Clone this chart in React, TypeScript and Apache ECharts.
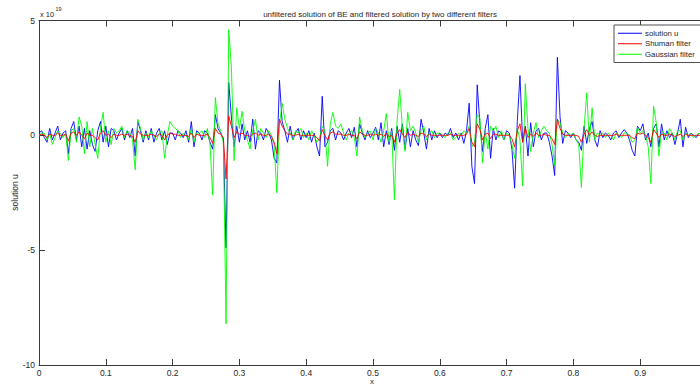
import React, { useEffect, useRef } from "react";
import * as echarts from "echarts";

// values in units of 1e19, sampled every X_STEP along x
const X_STEP = 0.004;

const solutionU = [
  0.1, 0.2, -0.1, -0.3, 0.3, -0.2, 0.1, 0.4, -0.2, 0.1,
  0.2, -0.8, 0.3, 0.6, -0.2, 0.4, -0.5, 0.3, -0.6, 0.2,
  -0.4, -0.7, 0.2, 0.6, -0.3, 0.4, -0.5, 0.3, 0.2, -0.2,
  0.1, 0.3, -0.2, 0.2, -0.1, 0.3, -0.9, 0.6, 0.2, -0.3,
  0.2, -0.2, 0.3, -0.3, 0.1, 0.3, -0.2, 0.2, -0.4, 0.1,
  0.1, -0.2, 0.2, 0.1, -0.1, 0.2, -0.3, 0.6, -0.5, 0.2,
  0.1, -0.2, 0.2, 0.1, -0.3, -0.6, 0.9, 0.3, 0.1, -0.2,
  -4.9, 2.3, 0.8, -0.5, 0.4, -0.3, 0.5, -0.2, 0.2, -0.3,
  0.7, -0.6, 0.2, 0.1, -0.2, 0.3, 0.1, -0.2, -1.0, -1.2,
  2.4, 0.6, 0.2, -0.3, 0.4, -0.2, 0.1, 0.3, -0.2, 0.2,
  -0.1, 0.2, -0.3, 0.1, -0.5, -0.9, 1.7, -0.5, -0.3, 0.2,
  0.3, -0.2, 0.2, 0.1, -0.2, 0.1, 0.3, -0.1, 0.35, -0.5,
  0.5, 0.1, -0.2, 0.2, -0.1, 0.1, 0.35, -0.2, 0.55, -0.5,
  0.2, -0.4, 0.3, -0.65, 0.4, -0.3, 0.5, -0.6, 0.3, -0.5,
  0.2, -0.2, -0.45, 0.7, 0.1, -0.6, 0.3, -0.2, 0.2, -0.1,
  0.1, -0.1, 0.1, 0.0, 0.3, -0.1, 0.1, -0.2, 0.1, -0.35,
  0.2, 1.4, -1.35, -2.1, 2.2, 0.5, -0.7, 0.3, 0.9, -1.0,
  0.3, -0.2, 0.2, 0.1, -0.2, 0.2, 0.1, -0.6, -2.3, 0.6,
  2.6, -0.3, 0.4, -0.9, 0.55, -0.5, 0.2, 0.3, -0.2, 0.1,
  0.1, -0.3, -0.9, -1.75, 3.4, 0.8, -0.35, 0.2, 0.1, -0.1,
  0.1, -0.2, -0.3, -0.65, 0.4, -0.35, 0.3, 0.6, -0.2, -0.5,
  0.2, -0.1, 0.1, 0.0, -0.2, 0.1, 0.2, -0.1, 0.1, 0.25,
  0.1, -0.2, -0.65, -0.9, 0.4, 0.2, 0.5, -0.2, 0.1, -0.5,
  0.3, 0.5, -0.5, 0.5, -0.2, 0.2, -0.1, 0.1, -0.4, 0.1,
  0.7, -0.5, 0.35, -0.1, 0.1, 0.0, -0.1, 0.1, 0.0, -0.1, 0.0,
];

const shumanFilter = [
  0, 0.05, 0, -0.1, 0.05, 0, 0, 0.1, 0, 0,
  0.05, -0.25, 0.1, 0.15, 0, 0.15, 0, -0.15, 0.1, 0,
  0, -0.1, -0.2, 0.1, 0.2, 0, 0.05, -0.1, 0.05, 0,
  0, 0.05, 0, 0.05, 0, -0.05, -0.3, 0.2, 0.05, 0,
  0, 0, 0.05, 0, -0.05, 0.05, 0, -0.2, 0, 0.1,
  0.05, 0.05, 0, 0, 0, 0, -0.05, 0.1, -0.1, 0.05,
  0, 0, 0, 0.05, -0.1, -0.35, 0.3, 0.1, 0.05, -0.1,
  -1.9, 0.85, 0.4, -0.1, 0.15, 0.05, 0.1, 0, 0, -0.05,
  0.05, 0.1, 0, 0.05, 0, 0, 0.05, -0.05, -0.3, -0.8,
  0.7, 0.4, 0.2, 0.05, 0.05, 0, 0, 0.05, 0, 0,
  0, 0, 0, 0, -0.1, -0.25, 0.25, 0, -0.2, 0.1,
  0.15, 0.05, 0.05, 0.05, 0, 0, 0.05, 0, 0, -0.15,
  0.15, 0.05, 0, 0, 0.05, 0, 0.05, 0, 0.05, -0.05,
  0.1, -0.05, 0, -0.3, 0.1, 0.25, 0.05, -0.1, 0.15, 0,
  0.05, 0, -0.05, 0.1, 0.05, -0.05, 0.05, 0, 0, 0,
  0, 0, 0, 0, 0.05, 0, 0, 0, 0, 0,
  0.05, 0.3, -0.3, -0.5, 0.5, 0.25, -0.2, 0.05, 0.1, -0.15,
  0.05, 0.05, 0, 0, 0, 0, 0, -0.15, -0.5, 0.2,
  0.5, -0.3, 0.35, -0.1, 0.05, -0.05, 0.1, 0, 0, 0.05,
  0, 0, -0.15, -0.4, 0.7, 0.3, 0.05, 0, 0, 0,
  0, 0, -0.05, -0.3, 0.05, 0.25, 0, 0.15, 0, -0.05,
  0, 0, 0, 0, 0, 0, 0.05, 0, 0, 0,
  0, 0, -0.1, -0.15, 0.1, 0.05, 0.1, 0, -0.1, -0.3,
  0.25, 0.1, -0.1, 0.05, 0, 0, 0.05, 0, -0.05, 0,
  0.05, -0.05, 0.05, 0, 0, 0, 0, 0, 0, 0, 0,
];

const gaussianFilter = [
  0.0, 0.1, 0.1, -0.2, 0.1, -0.4, -0.1, 0.2, 0.1, -0.1,
  0.1, -1.1, 0.2, 0.3, -0.3, 0.8, 0.4, -0.8, 0.6, -0.5,
  0.3, -0.4, -1.0, 0.3, 1.0, -0.3, 0.2, -0.4, 0.3, 0.1,
  0.2, 0.4, -0.1, 0.2, 0.1, -0.2, -1.5, 0.7, 0.3, -0.2,
  0.1, -0.1, 0.2, 0.0, -0.2, 0.1, 0.2, -1.0, 0.0, 0.6,
  0.4, 0.3, 0.2, -0.1, 0.1, 0.0, -0.2, 0.3, -0.3, 0.1,
  0.1, 0.2, -0.1, 0.3, -0.4, -2.6, 1.65, 0.5, 0.2, -0.3,
  -8.2, 4.6, 3.0, -1.1, 1.2, 0.3, 1.05, 0.2, -0.2, -0.6,
  0.2, 0.7, -0.2, 0.3, 0.1, -0.1, 0.2, 0.0, -0.4, -2.5,
  0.5, 1.4, 0.7, 0.3, 0.1, -0.2, 0.2, 0.1, 0.3, -0.1,
  0.1, -0.2, 0.2, 0.0, -0.3, -0.1, 0.4, 0.2, -1.35, 0.5,
  1.0, 0.4, 0.3, 0.5, 0.1, -0.2, 0.1, 0.2, -0.1, -0.9,
  0.8, 0.2, -0.1, 0.1, 0.2, -0.2, 0.3, 0.1, -0.3, 0.2,
  0.95, -0.3, 0.2, -2.8, 0.6, 2.0, 0.3, -0.7, 1.0, 0.2,
  0.4, 0.1, -0.3, 0.2, 0.4, -0.2, 0.1, 0.2, -0.1, 0.1,
  0.1, 0.0, -0.1, 0.1, 0.1, -0.2, -0.1, 0.1, 0.0, 0.2,
  0.1, 0.4, -0.5, -0.3, 0.9, 0.75, -1.2, 0.2, -0.6, 0.4,
  0.2, 0.4, -0.1, 0.2, -0.2, 0.1, 0.0, -0.4, -1.0, 0.3,
  -0.2, -2.2, 2.25, 0.3, -0.7, 0.1, 0.55, -0.1, 0.2, 0.4,
  0.2, 0.1, -0.4, -1.3, 0.7, 0.55, 0.1, -0.1, 0.1, 0.0,
  0.1, -0.2, -0.4, -2.27, 0.3, 1.85, -0.3, 1.2, -0.2, 0.1,
  0.0, 0.1, -0.1, 0.1, 0.0, -0.2, 0.1, 0.0, -0.1, 0.1,
  0.1, 0.0, -0.3, -0.2, 0.35, 0.1, 0.2, 0.0, -0.5, -2.1,
  1.27, 0.55, -0.9, 0.2, 0.1, -0.2, 0.3, 0.1, -0.2, 0.2,
  0.2, -0.2, 0.1, 0.0, 0.1, -0.1, 0.0, 0.1, 0.0, 0.0, 0.0,
];

const xTicks = [0, 0.1, 0.2, 0.3, 0.4, 0.5, 0.6, 0.7, 0.8, 0.9, 1];
const yTicks = [-10, -5, 0, 5];

const FONT = "'Liberation Sans', Arial, Helvetica, sans-serif";
const AXIS_COLOR = "#3a3a3a";
const TEXT_COLOR = "#262626";

const toPairs = (arr: number[]) =>
  arr.map((v, i) => [Number((i * X_STEP).toFixed(4)), v]);

export default function App() {
  const ref = useRef<HTMLDivElement>(null);

  useEffect(() => {
    if (!ref.current) return;
    const chart = echarts.init(ref.current, null, { renderer: "svg" });

    const baseX = {
      type: "value" as const,
      min: xTicks[0],
      max: xTicks[xTicks.length - 1],
      interval: 0.1,
      splitLine: { show: false },
      axisLine: { show: true, onZero: false, lineStyle: { color: AXIS_COLOR, width: 1 } },
      axisTick: { show: true, inside: true, length: 6, lineStyle: { color: AXIS_COLOR } },
    };

    const option: any = {
      animation: false,
      backgroundColor: "#ffffff",
      title: {
        text: "unfiltered solution of BE and filtered solution by two different filters",
        left: 375,
        textAlign: "center",
        top: 5,
        textStyle: { fontFamily: FONT, fontSize: 8, fontWeight: "normal", color: TEXT_COLOR },
      },
      legend: {
        orient: "vertical",
        left: 614,
        top: 25,
        padding: [3, 8, 3, 4],
        itemGap: 0,
        itemWidth: 24,
        itemHeight: 1,
        icon: "rect",
        borderColor: "#505050",
        borderWidth: 1,
        backgroundColor: "#ffffff",
        data: ["solution u", "Shuman filter", "Gaussian filter"],
        textStyle: { fontFamily: FONT, fontSize: 7.8, color: TEXT_COLOR, lineHeight: 10.5, padding: [0, 0, 0, -2] },
      },
      grid: {
        left: 39,
        right: 13,
        top: 20.5,
        bottom: 22,
        containLabel: false,
        outerBoundsMode: "none",
      },
      xAxis: [
        {
          ...baseX,
          position: "bottom",
          axisLabel: {
            show: true,
            margin: 3,
            fontFamily: FONT,
            fontSize: 8.5,
            color: TEXT_COLOR,
            showMaxLabel: false,
            formatter: (v: number) => (v >= 1 ? "" : String(Number(v.toFixed(1)))),
          },
        },
        {
          ...baseX,
          position: "top",
          axisLabel: { show: false },
        },
      ],
      yAxis: {
        type: "value",
        min: yTicks[0],
        max: yTicks[yTicks.length - 1],
        interval: 5,
        splitLine: { show: false },
        axisLine: { show: true, onZero: false, lineStyle: { color: AXIS_COLOR, width: 1 } },
        axisTick: { show: true, inside: true, length: 6, lineStyle: { color: AXIS_COLOR } },
        axisLabel: { margin: 4, fontFamily: FONT, fontSize: 8.5, color: TEXT_COLOR },
      },
      graphic: [
        {
          type: "text",
          left: 40,
          top: 10,
          style: { text: "x 10", fontFamily: FONT, fontSize: 7.5, fill: TEXT_COLOR },
        },
        {
          type: "text",
          left: 55.5,
          top: 6,
          style: { text: "19", fontFamily: FONT, fontSize: 5.5, fill: TEXT_COLOR },
        },
        {
          type: "text",
          x: 372,
          y: 381,
          style: {
            text: "x",
            fontFamily: FONT,
            fontSize: 8,
            fill: TEXT_COLOR,
            align: "center",
            verticalAlign: "middle",
          },
        },
        {
          type: "text",
          x: 15,
          y: 192.5,
          rotation: Math.PI / 2,
          style: {
            text: "solution u",
            fontFamily: FONT,
            fontSize: 8.5,
            fill: TEXT_COLOR,
            align: "center",
            verticalAlign: "middle",
          },
        },
      ],
      series: [
        {
          name: "solution u",
          type: "line",
          data: toPairs(solutionU),
          showSymbol: false,
          color: "#0000ff",
          lineStyle: { width: 0.9, color: "#0000ff" },
          clip: true,
        },
        {
          name: "Gaussian filter",
          type: "line",
          data: toPairs(gaussianFilter),
          showSymbol: false,
          color: "#00ff00",
          lineStyle: { width: 0.9, color: "#00ff00" },
          clip: true,
        },
        {
          name: "Shuman filter",
          type: "line",
          data: toPairs(shumanFilter),
          showSymbol: false,
          color: "#ff0000",
          lineStyle: { width: 0.9, color: "#ff0000" },
          clip: true,
        },
      ],
    };

    chart.setOption(option);
    return () => chart.dispose();
  }, []);

  return (
    <div
      style={{
        position: "absolute",
        left: 0,
        top: 0,
        width: 700,
        height: 387,
        overflow: "hidden",
        background: "#ffffff",
      }}
    >
      <div ref={ref} style={{ width: 720, height: 387 }} />
    </div>
  );
}
